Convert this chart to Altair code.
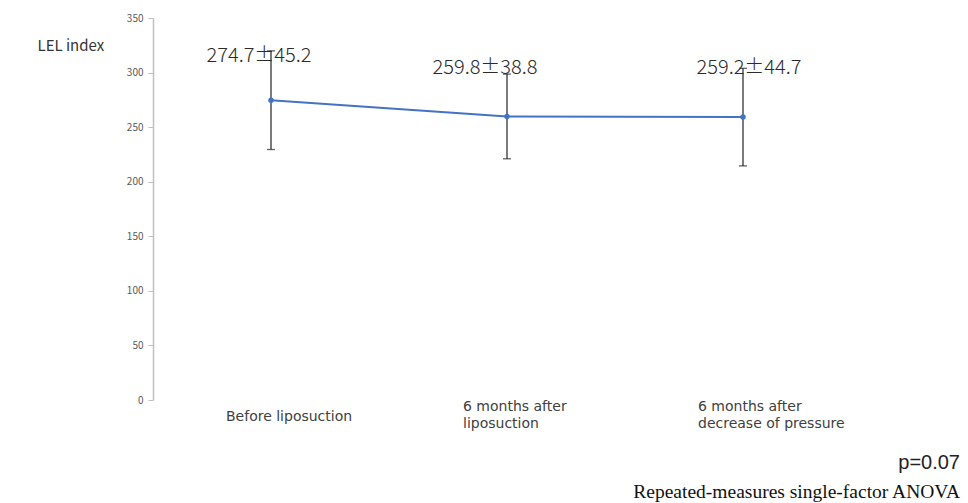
import altair as alt
import pandas as pd

categories = ["Before liposuction", "6 months after\n\u00a0liposuction", "6 months after\ndecrease of pressure"]
means = [274.7, 259.8, 259.2]
sds = [45.2, 38.8, 44.7]
value_labels = ["274.7\u00b145.2", "259.8\u00b138.8", "259.2\u00b144.7"]
y_ticks = [0, 50, 100, 150, 200, 250, 300, 350]

df = pd.DataFrame({"cat": categories, "mean": means, "sd": sds, "label": value_labels})
df["lo"] = df["mean"] - df["sd"]
df["hi"] = df["mean"] + df["sd"]

FONT = "Noto Sans CJK JP"

x_enc = alt.X("cat:N", sort=categories, scale=alt.Scale(type="point", padding=0.5), axis=None)
y_scale = alt.Scale(domain=[0, 350], nice=False, zero=True)
y_axis = alt.Axis(
    values=y_ticks, grid=False, title="LEL index",
    titleAngle=0, titleAlign="left", titleBaseline="middle", titleX=-116, titleY=27,
    titleFontSize=15, titleFontWeight="normal", titleColor="#333333", titleFont=FONT,
    labelFontSize=10, labelColor="#595959", labelFont=FONT, labelPadding=5,
    tickColor="#bfbfbf", tickSize=5, domainColor="#bfbfbf", domainWidth=1.5,
)

def Y(field):
    return alt.Y(f"{field}:Q", scale=y_scale, axis=y_axis, title="LEL index")

base = alt.Chart(df).encode(x=x_enc)

line = base.mark_line(color="#4472C4", strokeWidth=2).encode(y=Y("mean"))
rules = base.mark_rule(color="#222222", strokeWidth=1.2).encode(y=Y("lo"), y2="hi")
cap_lo = base.mark_tick(color="#222222", size=8, thickness=1.3, orient="horizontal").encode(y=Y("lo"))
cap_hi = base.mark_tick(color="#222222", size=8, thickness=1.3, orient="horizontal").encode(y=Y("hi"))
points = base.mark_circle(color="#4472C4", size=30, opacity=1).encode(y=Y("mean"))

layers = [line, rules, cap_lo, cap_hi, points]

label_dx = [-12, -22, 6]
label_dy = [-44, -48, -49]
cat_dx = [-45, -44, -45]
for i, c in enumerate(categories):
    sub = base.transform_filter(alt.FieldEqualPredicate(field="cat", equal=c))
    layers.append(
        sub.mark_text(font=FONT, fontSize=20, fontWeight=300, color="#2b2b2b", dx=label_dx[i], dy=label_dy[i],
                      baseline="middle", align="center")
        .encode(y=Y("mean"), text="label:N")
    )
    nlines = c.count("\n") + 1
    layers.append(
        sub.mark_text(font="DejaVu Sans", fontSize=14, color="#404040", dx=cat_dx[i], align="left",
                      baseline="middle", lineBreak="\n", lineHeight=17)
        .encode(y=alt.value(399 if nlines == 1 else 389), text="cat:N")
    )

ann = pd.DataFrame({"t": ["p=0.07"]})
pval = alt.Chart(ann).mark_text(font="Liberation Sans", fontSize=20, color="#222222",
                                align="right", baseline="middle").encode(
    x=alt.value(807), y=alt.value(445), text="t:N")
ann2 = pd.DataFrame({"t": ["Repeated-measures single-factor ANOVA"]})
anova = alt.Chart(ann2).mark_text(font="Liberation Serif", fontSize=19.5, color="#111111",
                                  align="right", baseline="middle").encode(
    x=alt.value(807), y=alt.value(474), text="t:N")
layers += [pval, anova]

chart = alt.layer(*layers).properties(
    width=708, height=382,
    autosize=alt.AutoSizeParams(type="none"),
    padding={"left": 153, "top": 18, "right": 107, "bottom": 103},
    background="white",
).configure_view(stroke=None)

chart.save("out.html", embed_options={"renderer": "svg", "actions": False})
